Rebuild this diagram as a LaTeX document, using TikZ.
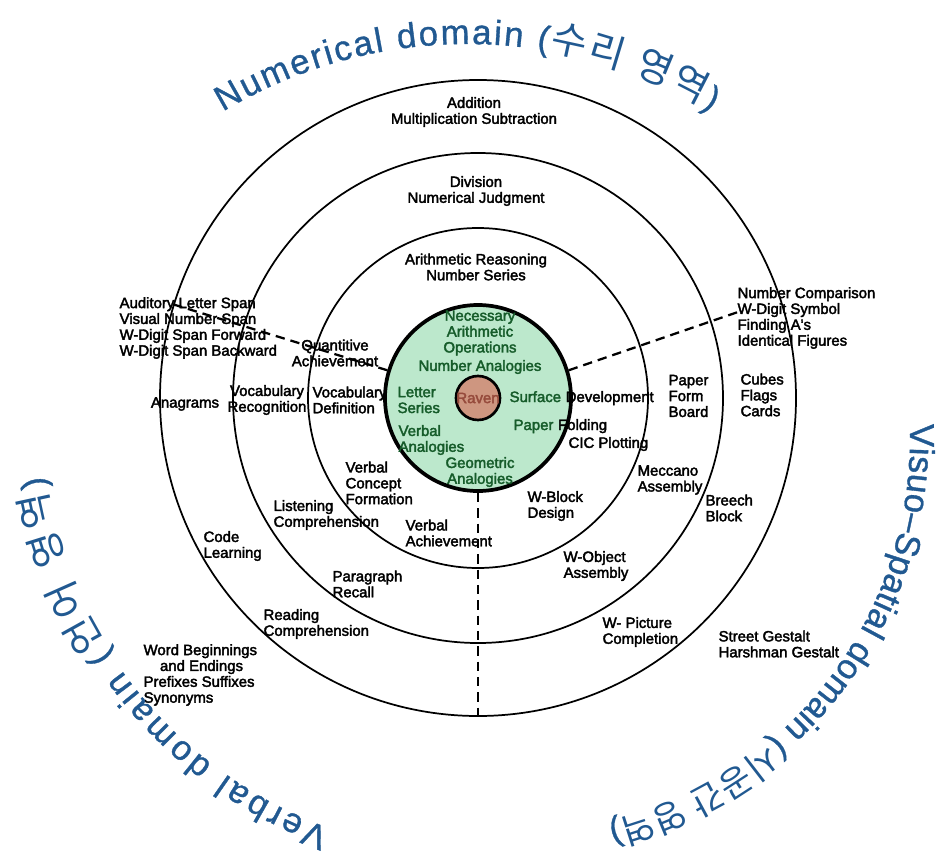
\documentclass[tikz,border=0pt]{standalone}
\usepackage{fontspec}
\setmainfont{Liberation Sans}
\newfontfamily\labelfamily{Liberation Sans}[FakeBold=2.5]
\newfontfamily\titlefamily{Liberation Sans}[FakeBold=1]
\newfontfamily\korfont{Noto Sans CJK KR}
\usepackage{tikz}
\usetikzlibrary{positioning,decorations.text}

\definecolor{mint}{RGB}{188,232,204}
\definecolor{leafgreen}{RGB}{22,92,42}
\definecolor{ravenfill}{RGB}{206,150,128}
\definecolor{raventext}{RGB}{150,75,60}
\definecolor{titleblue}{RGB}{33,89,145}

\newcommand\labelfont{\labelfamily\fontsize{11.2}{11.9}\selectfont}
\newcommand\titlelat{\titlefamily\fontsize{26}{30}\selectfont}
\newcommand\titlekor{\korfont\fontsize{29}{30}\selectfont}
\newcommand\titlekorsm{\korfont\fontsize{26}{30}\selectfont}

\begin{document}
\begin{tikzpicture}[x=0.75pt, y=-0.75pt,
    ring/.style={line width=1.3pt},
    core/.style={circle, draw, line width=2.8pt, fill=mint, minimum size=139.5pt, inner sep=0pt},
    ravencore/.style={circle, draw, line width=2pt, fill=ravenfill, minimum size=33pt, inner sep=0pt},
    link/.style={line width=1.7pt, dash pattern=on 7pt off 4.5pt},
    lbl/.style={font=\labelfont, align=left, inner sep=1pt},
    inlbl/.style={lbl, text=leafgreen},
    titlearc/.style={decorate, decoration={text along path, text align=fit to path, text color=titleblue}}]
  \useasboundingbox (0,0) rectangle (939,864);

  % rings
  \coordinate (C) at (478,398);
  \draw[ring] (C) circle[radius=318];
  \draw[ring] (C) circle[radius=245];
  \draw[ring] (C) circle[radius=170];

  % core
  \node[core] (core) at (C) {};
  \node[ravencore, label={[text=raventext, font=\labelfont]center:Raven}] (rav) at (C) {};

  % dashed borders between domains
  \coordinate (lend) at (172,304);
  \coordinate (rend) at (738,312);
  \coordinate (bend) at (478,722);
  \draw[link] (core.163.6) -- (lend);
  \draw[link] (core.17.5) -- (rend);
  \draw[link] (core.south) -- (bend);

  % numerical
  \node[lbl, align=center] (add) at (474,112) {Addition\\Multiplication Subtraction};
  \node[lbl, align=center] (div) at (476,191) {Division\\Numerical Judgment};
  \node[lbl, align=center] (arr) at (476,267) {Arithmetic Reasoning\\Number Series};

  % inside the core
  \node[inlbl, align=center] (nao) at (480,333) {Necessary\\Arithmetic\\Operations};
  \node[inlbl] (nan) at (480,367) {Number Analogies};
  \node[inlbl, anchor=west] (ls) at (396,400) {Letter\\Series};
  \node[inlbl, anchor=west] (va) at (397,440) {Verbal\\Analogies};
  \node[inlbl, align=center] (ga) at (480,472) {Geometric\\Analogies};
  \node[inlbl, anchor=base west] (surf) at (508,402) {Surface};
  \node[lbl, base right=1.1pt of surf] (dev) {Development};
  \node[inlbl, anchor=base west] (pap) at (512,430) {Paper};
  \node[lbl, base right=1.1pt of pap] (fold) {Folding};

  % verbal
  \node[lbl, anchor=west] (span) at (118,328) {Auditory Letter Span\\Visual Number Span\\W-Digit Span Forward\\W-Digit Span Backward};
  \node[lbl, align=center] (qa) at (335,353) {Quantitive\\Achievement};
  \node[lbl] (ana) at (185,404) {Anagrams};
  \node[lbl, align=center] (vr) at (267,400) {Vocabulary\\Recognition};
  \node[lbl, anchor=west] (vd) at (311,400) {Vocabulary\\Definition};
  \node[lbl, anchor=west] (vcf) at (344,483) {Verbal\\Concept\\Formation};
  \node[lbl, anchor=west] (lc) at (272,515) {Listening\\Comprehension};
  \node[lbl, anchor=west] (vach) at (404,533) {Verbal\\Achievement};
  \node[lbl, anchor=west] (cl) at (202,546) {Code\\Learning};
  \node[lbl, anchor=west] (pr) at (331,584) {Paragraph\\Recall};
  \node[lbl, anchor=west] (rc) at (262,624) {Reading\\Comprehension};
  \node[lbl, anchor=west] (wb) at (142,675) {Word Beginnings\\\hspace*{1.1em}and Endings\\Prefixes Suffixes\\Synonyms};

  % visuo-spatial
  \node[lbl, anchor=west] (ncmp) at (736,318) {Number Comparison\\W-Digit Symbol\\Finding A's\\Identical Figures};
  \node[lbl, anchor=west] (pfb) at (667,396) {Paper\\Form\\Board};
  \node[lbl, anchor=west] (cfc) at (739,395) {Cubes\\Flags\\Cards};
  \node[lbl, anchor=west] (cic) at (567,444) {CIC Plotting};
  \node[lbl, anchor=west] (mec) at (636,480) {Meccano\\Assembly};
  \node[lbl, anchor=west] (bb) at (704,508) {Breech\\Block};
  \node[lbl, anchor=west] (wbd) at (526,506) {W-Block\\Design};
  \node[lbl, anchor=west] (wob) at (562,566) {W-Object\\Assembly};
  \node[lbl, anchor=west] (wpc) at (601,632) {W- Picture\\Completion};
  \node[lbl, anchor=west] (sg) at (717,644) {Street Gestalt\\Harshman Gestalt};

  % domain titles
  \path[titlearc, decoration={text={|\titlelat|Numerical domain (|\titlekor|수리 영역|\titlelat|)}}]
    (467,518) ++(-121:474) arc[start angle=-121, end angle=-59, radius=474];
  \path[titlearc, decoration={text={|\titlelat|Verbal domain (|\titlekor|언어 영역|\titlelat|)}}]
    (480,415) ++(110:440) arc[start angle=110, end angle=172, radius=440];
  \path[titlearc, decoration={text={|\titlelat|Visuo–Spatial domain (|\titlekorsm|시공간 영역|\titlelat|)}}]
    (512,438) ++(-2:398) arc[start angle=-2, end angle=76, radius=398];
\end{tikzpicture}
\end{document}
